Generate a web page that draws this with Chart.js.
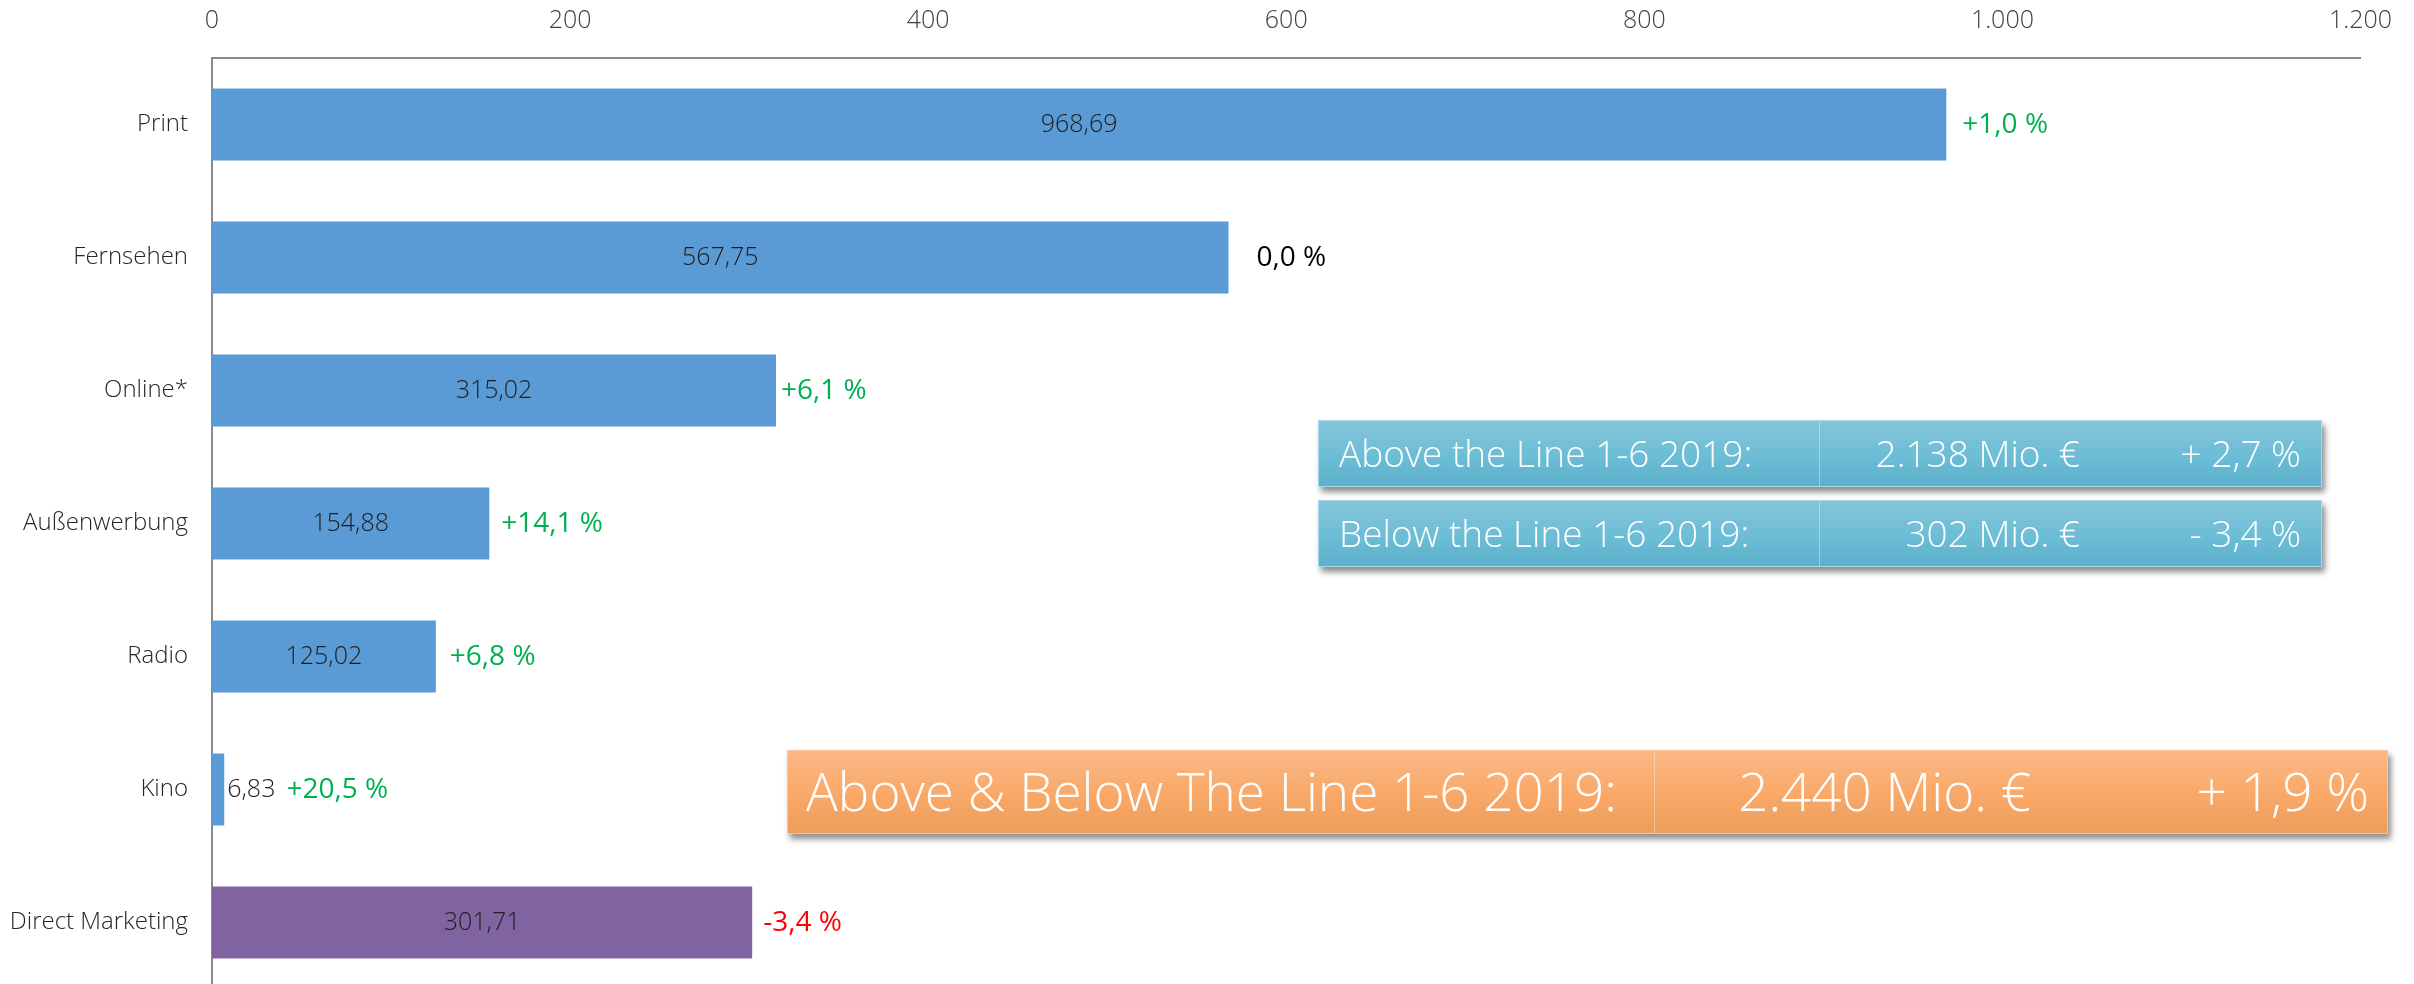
<!DOCTYPE html>
<html lang="de">
<head>
<meta charset="utf-8">
<title>Werbeumsätze 1-6 2019</title>
<script src="https://cdn.jsdelivr.net/npm/chart.js@4.4.1/dist/chart.umd.min.js"></script>
<style>
  html, body { margin: 0; padding: 0; background: #fff; overflow: hidden; }
  #wrap { position: relative; width: 2414px; height: 989px; }
  #chart { display: block; }
  .box {
    position: absolute;
    box-sizing: border-box;
    color: #fff;
    font-family: "Open Sans", sans-serif;
    font-weight: 300;
    white-space: nowrap;
    box-shadow: 3px 5px 6px rgba(0, 0, 0, 0.45);
  }
  .box span { position: absolute; top: 50%; transform: translateY(-52%); }
  .box .divider { position: absolute; top: 0; bottom: 0; width: 1px; background: rgba(255, 255, 255, 0.35); }
  .blue {
    left: 1318px; width: 1004px; height: 67px;
    font-size: 37px;
    background: linear-gradient(#84c5d9, #6cbdd6 55%, #5db0cb);
    border: 1px solid #a6d8e6;
  }
  .orange {
    left: 787px; top: 750px; width: 1601px; height: 84px;
    font-size: 53px;
    background: linear-gradient(#fbb886, #f9a867 55%, #ec9d5a);
    border: 1px solid #fcc59c;
  }
</style>
</head>
<body>
<div id="wrap">
  <canvas id="chart" width="2414" height="989"></canvas>

  <div class="box blue" style="top: 420px;">
    <span style="left: 20px;">Above the Line 1-6 2019:</span>
    <div class="divider" style="left: 500px;"></div>
    <span style="right: 241px;">2.138 Mio. €</span>
    <span style="right: 20px;">+ 2,7 %</span>
  </div>
  <div class="box blue" style="top: 500px;">
    <span style="left: 20px;">Below the Line 1-6 2019:</span>
    <div class="divider" style="left: 500px;"></div>
    <span style="right: 241px;">302 Mio. €</span>
    <span style="right: 20px;">- 3,4 %</span>
  </div>
  <div class="box orange">
    <span style="left: 18px;">Above &amp; Below The Line 1-6 2019:</span>
    <div class="divider" style="left: 866px;"></div>
    <span style="right: 356px;">2.440 Mio. €</span>
    <span style="right: 18px;">+ 1,9 %</span>
  </div>
</div>

<script>
// Mio. Euro, 1. Halbjahr 2019
const categories = ['Print', 'Fernsehen', 'Online*', 'Außenwerbung', 'Radio', 'Kino', 'Direct Marketing'];
const values = [968.69, 567.75, 315.02, 154.88, 125.02, 6.83, 301.71];
const changes = [1.0, 0.0, 6.1, 14.1, 6.8, 20.5, -3.4];
const axisTicks = [0, 200, 400, 600, 800, 1000, 1200];

// gap between bar end (or value label) and the change label, px
const changeGap = [16, 28, 5, 12, 14, 11, 11];

const barColors = categories.map((c) => c === 'Direct Marketing' ? '#8064a2' : '#5b9bd5');

const fmtDecimal = (v) => v.toFixed(2).replace('.', ',');
const fmtThousands = (v) => String(v).replace(/\B(?=(\d{3})+(?!\d))/g, '.');
const fmtChange = (v) => (v > 0 ? '+' : '') + v.toFixed(1).replace('.', ',') + ' %';
const changeColor = (v) => v > 0 ? '#00b050' : (v < 0 ? '#ff0000' : '#000000');

const valueFont = '300 25px "Open Sans"';
const changeFont = '400 28px "Open Sans"';

// value labels inside the bars, change labels right of them
const barLabels = {
    id: 'barLabels',
    afterDatasetsDraw(chart) {
        const ctx = chart.ctx;
        const meta = chart.getDatasetMeta(0);
        ctx.save();
        ctx.textBaseline = 'middle';
        meta.data.forEach((bar, i) => {
            const text = fmtDecimal(values[i]);
            ctx.font = valueFont;
            const w = ctx.measureText(text).width;
            const barWidth = bar.x - bar.base;
            let end = bar.x;
            ctx.fillStyle = '#1e1e1e';
            if (w + 10 < barWidth) {
                ctx.textAlign = 'center';
                ctx.fillText(text, (bar.x + bar.base) / 2, bar.y);
            } else {
                ctx.textAlign = 'left';
                ctx.fillText(text, bar.x + 3, bar.y);
                end = bar.x + 3 + w;
            }
            ctx.font = changeFont;
            ctx.textAlign = 'left';
            ctx.fillStyle = changeColor(changes[i]);
            ctx.fillText(fmtChange(changes[i]), end + changeGap[i], bar.y + 1);
        });
        ctx.restore();
    }
};

new Chart(document.getElementById('chart'), {
    type: 'bar',
    data: {
        labels: categories,
        datasets: [{
            data: values,
            backgroundColor: barColors,
            borderWidth: 0,
            barPercentage: 0.54,
            categoryPercentage: 1.0,
        }],
    },
    options: {
        indexAxis: 'y',
        responsive: false,
        animation: false,
        devicePixelRatio: 1,
        layout: {
            autoPadding: false,
            padding: { left: 0, right: 52, top: 0, bottom: 0 },
        },
        plugins: {
            legend: { display: false },
            tooltip: { enabled: false },
        },
        scales: {
            x: {
                position: 'top',
                min: axisTicks[0],
                max: axisTicks[axisTicks.length - 1],
                afterBuildTicks: (scale) => { scale.ticks = axisTicks.map((v) => ({ value: v })); },
                afterFit: (scale) => { scale.height = 58; },
                grid: { display: false, drawTicks: false },
                border: { display: true, color: '#8a8a8a', width: 2 },
                ticks: {
                    padding: 22,
                    color: '#404040',
                    font: { family: 'Open Sans', weight: '300', size: 25 },
                    callback: (v) => fmtThousands(v),
                },
            },
            y: {
                // the plot runs down to the bottom edge, no room for label overhang
                afterFit: (scale) => {
                    scale.width = 212;
                    scale.paddingTop = 0;
                    scale.paddingBottom = 0;
                },
                grid: { display: false, drawTicks: false },
                border: { display: true, color: '#8a8a8a', width: 2 },
                ticks: {
                    padding: 24,
                    color: '#262626',
                    font: { family: 'Open Sans', weight: '300', size: 24 },
                },
            },
        },
    },
    plugins: [barLabels],
});
</script>
</body>
</html>
